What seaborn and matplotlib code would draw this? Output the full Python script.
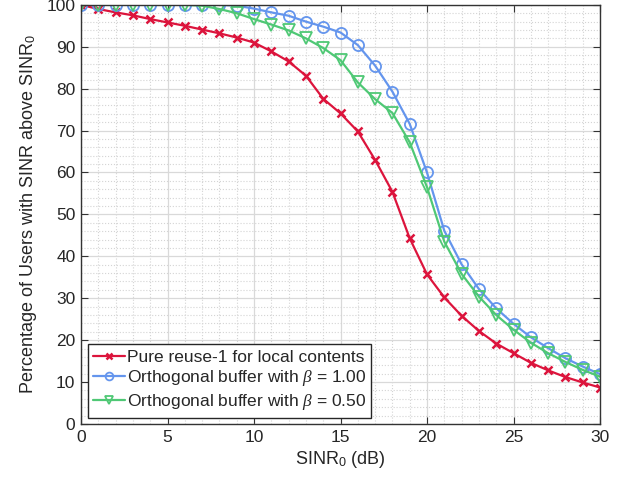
import numpy as np
import pandas as pd
import matplotlib
matplotlib.use("Agg")
import matplotlib.pyplot as plt
from matplotlib.ticker import MultipleLocator
import seaborn as sns

sinr_db = list(range(0, 31))
reuse1 = [100, 99.0, 98.2, 97.5, 96.6, 95.8, 95.0, 94.1, 93.2, 92.2, 91.0,
          88.9, 86.5, 83.1, 77.6, 74.1, 69.8, 63.0, 55.4, 44.3, 35.7,
          30.2, 25.8, 22.2, 19.2, 16.9, 14.6, 12.8, 11.2, 9.9, 8.7]
ortho_100 = [100, 100, 100, 100, 100, 100, 100, 100, 100, 99.8, 99.1,
             98.2, 97.4, 96.0, 94.8, 93.4, 90.4, 85.5, 79.3, 71.6, 60.0,
             46.1, 38.1, 32.2, 27.6, 23.9, 20.7, 18.1, 15.7, 13.7, 11.9]
ortho_050 = [100, 100, 100, 100, 100, 100, 100, 99.8, 99.0, 98.0, 96.6,
             95.3, 93.9, 92.0, 89.7, 86.8, 81.5, 77.5, 74.2, 67.2, 56.5,
             43.5, 35.8, 30.4, 26.0, 22.5, 19.4, 16.9, 14.8, 12.9, 11.3]

labels = ["Pure reuse-1 for local contents",
          r"Orthogonal buffer with $\beta$ = 1.00",
          r"Orthogonal buffer with $\beta$ = 0.50"]
colors = ["#DC143C", "#6495ED", "#4FC875"]
markers = ["x", "o", "v"]

sns.set_theme(style="white")
plt.rcParams["font.family"] = ["Liberation Sans", "DejaVu Sans"]
plt.rcParams["mathtext.fontset"] = "custom"
plt.rcParams["mathtext.it"] = "Liberation Serif:italic"
plt.rcParams["mathtext.rm"] = "Liberation Sans"

fig = plt.figure(figsize=(6.25, 4.84), dpi=100)
ax = fig.add_axes([0.1296, 0.124, 0.8304, 0.866])

series = [reuse1, ortho_100, ortho_050]
for vals, lab, col, mk in zip(series, labels, colors, markers):
    df = pd.DataFrame({"x": sinr_db, "y": vals})
    if mk == "x":
        sns.lineplot(data=df, x="x", y="y", ax=ax, color=col, marker=mk,
                     markersize=6, markeredgecolor=col, markeredgewidth=1.8,
                     linewidth=1.6, label=lab)
    else:
        sns.lineplot(data=df, x="x", y="y", ax=ax, color=col, marker=mk,
                     markersize=8, markerfacecolor="none", markeredgecolor=col,
                     markeredgewidth=1.3, linewidth=1.6, label=lab)

ax.set_xlim(0, 30)
ax.set_ylim(0, 100)
ax.xaxis.set_major_locator(MultipleLocator(5))
ax.xaxis.set_minor_locator(MultipleLocator(1))
ax.yaxis.set_major_locator(MultipleLocator(10))
ax.yaxis.set_minor_locator(MultipleLocator(2))
ax.grid(True, which="major", color="#d9d9d9", linestyle="-", linewidth=0.9)
ax.grid(True, which="minor", color="#d4d4d4", linestyle=":", linewidth=0.8)
ax.set_axisbelow(True)
for s in ax.spines.values():
    s.set_color("#333333")
    s.set_linewidth(1.0)
    s.set_visible(True)
ax.tick_params(which="major", direction="in", length=5, width=0.8,
               top=True, right=True, bottom=True, left=True,
               labelsize=12.5, colors="#333333", labelcolor="#262626", pad=4)
ax.tick_params(which="minor", length=0)

ax.set_xlabel(r"SINR$_0$ (dB)", fontsize=13, color="#262626", labelpad=3)
ax.set_ylabel(r"Percentage of Users with SINR above SINR$_0$", fontsize=13,
              color="#262626", labelpad=5)

leg = ax.legend(loc="lower left", bbox_to_anchor=(0.003, 0.003), fontsize=12.5,
                frameon=True, fancybox=False, framealpha=1, edgecolor="#262626",
                borderpad=0.3, labelspacing=0.22, handlelength=1.85,
                handletextpad=0.1, borderaxespad=0.3, markerscale=0.7)
leg.get_frame().set_linewidth(1.0)

fig.savefig("out.png", dpi=100)
